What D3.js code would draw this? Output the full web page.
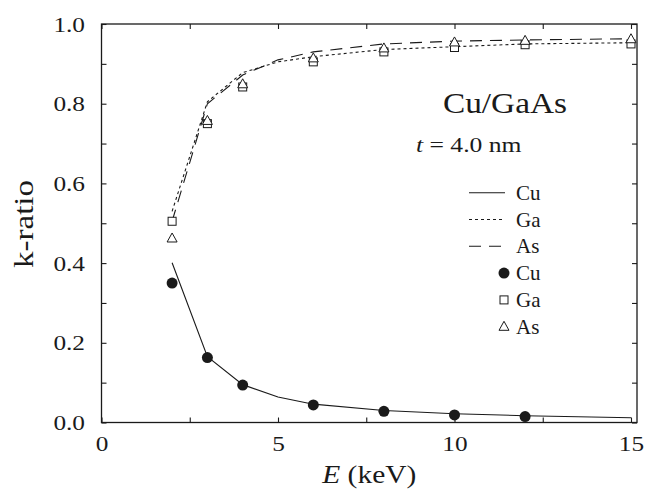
<!DOCTYPE html>
<html>
<head>
<meta charset="utf-8">
<script src="https://cdn.jsdelivr.net/npm/d3@7"></script>
<style>
  html, body { margin: 0; padding: 0; background: #fff; }
  svg { display: block; }
  text { font-family: "Liberation Serif", "Times New Roman", serif; }
</style>
</head>
<body>
<svg id="chart" width="647" height="494" font-family="Liberation Serif"></svg>
<script>
// Electron energies (keV) at which k-ratios were measured
const energies = [2, 3, 4, 6, 8, 10, 12, 15];
const cuEnergies = [2, 3, 4, 6, 8, 10, 12];

// Measured k-ratios
const cuMeasured = [0.350, 0.163, 0.094, 0.044, 0.028, 0.019, 0.015];
const gaMeasured = [0.505, 0.750, 0.842, 0.905, 0.930, 0.941, 0.948, 0.950];
const asMeasured = [0.462, 0.757, 0.849, 0.914, 0.939, 0.954, 0.958, 0.962];

// Calculated k-ratio curves
const calcEnergies = [2, 3, 4, 5, 6, 8, 10, 12, 15];
const cuCalc = [0.401, 0.165, 0.095, 0.064, 0.046, 0.030, 0.022, 0.017, 0.012];
const gaCalc = [0.530, 0.805, 0.878, 0.905, 0.918, 0.936, 0.943, 0.950, 0.953];
const asCalc = [0.505, 0.800, 0.872, 0.910, 0.930, 0.950, 0.957, 0.960, 0.963];

// Axis ticks
const xMajor = [0, 5, 10, 15];
const xMinor = [2.5, 7.5, 12.5];
const yMajor = [0, 0.2, 0.4, 0.6, 0.8, 1.0];
const yMinor = [0.1, 0.3, 0.5, 0.7, 0.9];

const svg = d3.select("#chart");
const ink = "#1a1a1a";
const serif = "Liberation Serif";
const widen = 1.15;   // the typeface used is a touch wider than Liberation Serif

const x = d3.scaleLinear().domain([0, 15.17]).range([101.5, 637]);
const y = d3.scaleLinear().domain([0, 1]).range([422.5, 24]);
const [x0, x1] = x.range();
const [y0, y1] = y.range();

// Frame
svg.append("rect")
  .attr("x", x0).attr("y", y1)
  .attr("width", x1 - x0).attr("height", y0 - y1)
  .attr("fill", "none").attr("stroke", ink).attr("stroke-width", 1.3);

function styleAxis(g) {
  g.attr("font-family", serif).attr("font-size", null);
  g.select(".domain").remove();
  g.selectAll(".tick line").attr("stroke", ink).attr("stroke-width", 1.1);
  g.selectAll(".tick text").attr("fill", ink)
    .attr("font-family", serif).attr("font-size", 22);
}

const tickLen = 5;
const xTicks = xMajor.concat(xMinor);
const yTicks = yMajor.concat(yMinor);

// Bottom axis with labels
svg.append("g").attr("transform", `translate(0,${y0})`)
  .call(d3.axisBottom(x).tickValues(xMajor).tickSize(-tickLen).tickPadding(13)
    .tickFormat(d3.format("d")))
  .call(styleAxis)
  .selectAll(".tick text").attr("transform", `scale(${widen},1)`);
svg.append("g").attr("transform", `translate(0,${y0})`)
  .call(d3.axisBottom(x).tickValues(xMinor).tickSize(-tickLen).tickFormat(""))
  .call(styleAxis);
// Top axis, ticks only
svg.append("g").attr("transform", `translate(0,${y1})`)
  .call(d3.axisTop(x).tickValues(xTicks).tickSize(-tickLen).tickFormat(""))
  .call(styleAxis);

// Left axis with labels
svg.append("g").attr("transform", `translate(${x0},0)`)
  .call(d3.axisLeft(y).tickValues(yMajor).tickSize(-tickLen)
    .tickFormat(d3.format(".1f")))
  .call(styleAxis)
  .selectAll(".tick text")
  .attr("x", -16.5 / widen)
  .attr("transform", `scale(${widen},1)`);
svg.append("g").attr("transform", `translate(${x0},0)`)
  .call(d3.axisLeft(y).tickValues(yMinor).tickSize(-tickLen).tickFormat(""))
  .call(styleAxis);
// Right axis, ticks only
svg.append("g").attr("transform", `translate(${x1},0)`)
  .call(d3.axisRight(y).tickValues(yTicks).tickSize(-tickLen).tickFormat(""))
  .call(styleAxis);

// Text placed at (px, py), widened along its baseline
function label(px, py, size, sx, rotate) {
  const g = svg.append("g")
    .attr("transform", `translate(${px},${py})${rotate ? ` rotate(${rotate})` : ""} scale(${sx},1)`);
  return g.append("text")
    .attr("font-family", serif).attr("font-size", size).attr("fill", ink);
}

// Axis titles
label(33, 224, 28, 1.18, -90)
  .attr("text-anchor", "middle")
  .text("k-ratio");

const xt = label((x0 + x1) / 2, 483, 25, 1.18).attr("text-anchor", "middle");
xt.append("tspan").attr("font-style", "italic").text("E");
xt.append("tspan").text(" (keV)");

// Calculated curves
const lineStyles = {
  Cu: { dash: null, width: 1.1 },
  Ga: { dash: "3,3", width: 1.1 },
  As: { dash: "12,8", width: 1.1 }
};
const line = d3.line().x(d => x(d[0])).y(d => y(d[1]));
const curves = [
  { name: "Cu", vals: cuCalc },
  { name: "Ga", vals: gaCalc },
  { name: "As", vals: asCalc }
];
curves.forEach(c => {
  svg.append("path")
    .datum(d3.zip(calcEnergies, c.vals))
    .attr("d", line)
    .attr("fill", "none")
    .attr("stroke", ink)
    .attr("stroke-width", lineStyles[c.name].width)
    .attr("stroke-dasharray", lineStyles[c.name].dash);
});

// Marker shapes
function drawMarker(g, kind, cx, cy) {
  if (kind === "circle") {
    g.append("circle").attr("cx", cx).attr("cy", cy).attr("r", 5.5)
      .attr("fill", ink);
  } else if (kind === "square") {
    const s = 8;
    g.append("rect").attr("x", cx - s / 2).attr("y", cy - s / 2)
      .attr("width", s).attr("height", s)
      .attr("fill", "#fff").attr("stroke", ink).attr("stroke-width", 1);
  } else {
    const h = 9, w = 10;
    g.append("path")
      .attr("d", `M${cx},${cy - h * 0.6}L${cx + w / 2},${cy + h * 0.4}L${cx - w / 2},${cy + h * 0.4}Z`)
      .attr("fill", "#fff").attr("stroke", ink).attr("stroke-width", 1);
  }
}

const pts = svg.append("g");
d3.zip(energies, gaMeasured).forEach(d => drawMarker(pts, "square", x(d[0]), y(d[1])));
d3.zip(energies, asMeasured).forEach(d => drawMarker(pts, "triangle", x(d[0]), y(d[1])));
d3.zip(cuEnergies, cuMeasured).forEach(d => drawMarker(pts, "circle", x(d[0]), y(d[1])));

// Annotations
label(505, 113, 29, 1.15).attr("text-anchor", "middle").text("Cu/GaAs");

const tt = label(416, 152, 21, 1.22);
tt.append("tspan").attr("font-style", "italic").text("t");
tt.append("tspan").text(" = 4.0 nm");

// Legend
const legendRows = [
  { label: "Cu", type: "line", key: "Cu" },
  { label: "Ga", type: "line", key: "Ga" },
  { label: "As", type: "line", key: "As" },
  { label: "Cu", type: "circle" },
  { label: "Ga", type: "square" },
  { label: "As", type: "triangle" }
];
const lg = svg.append("g");
legendRows.forEach((r, i) => {
  const cy = 192.7 + i * 26.8;
  if (r.type === "line") {
    lg.append("line")
      .attr("x1", 469).attr("x2", 505).attr("y1", cy).attr("y2", cy)
      .attr("stroke", ink).attr("stroke-width", 1.1)
      .attr("stroke-dasharray", lineStyles[r.key].dash);
  } else {
    drawMarker(lg, r.type, 504, cy);
  }
  lg.append("text")
    .attr("x", 516).attr("y", cy + 7)
    .attr("font-family", serif).attr("font-size", 21)
    .attr("fill", ink)
    .text(r.label);
});
</script>
</body>
</html>
